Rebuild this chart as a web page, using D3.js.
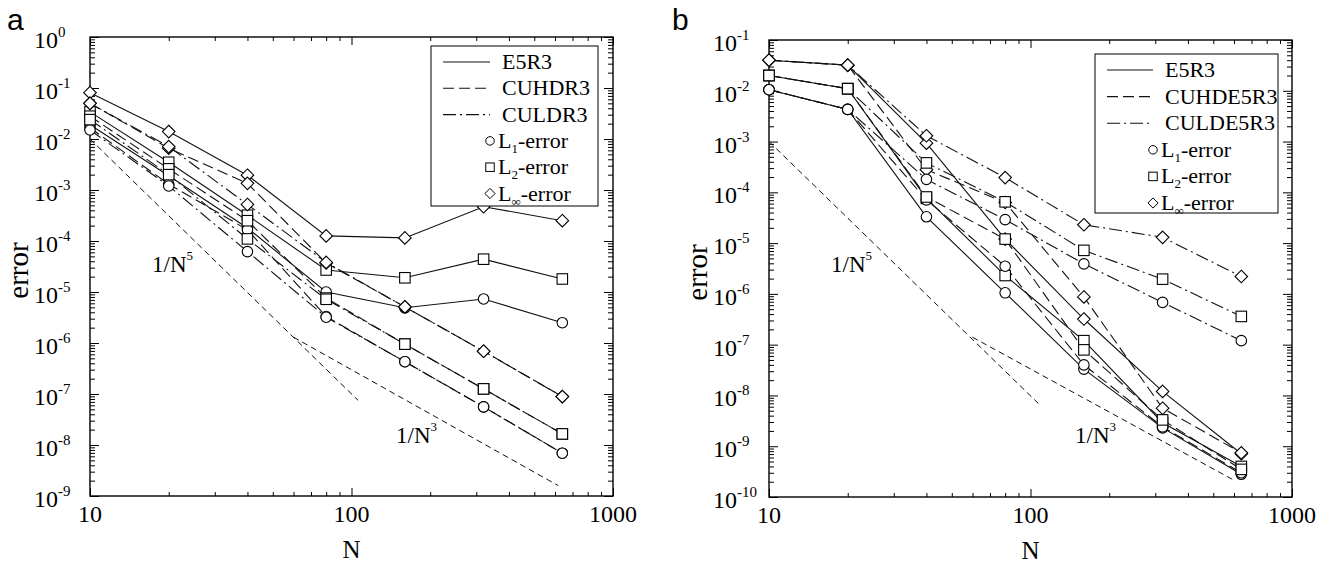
<!DOCTYPE html>
<html>
<head>
<meta charset="utf-8">
<script src="https://cdn.jsdelivr.net/npm/d3@7"></script>
<style>
  body { margin: 0; background: #fff; }
  svg { display: block; }
</style>
</head>
<body>
<svg id="fig" width="1336" height="563"></svg>
<script>
// grid sizes
const N = [10, 20, 40, 80, 160, 320, 640];

// panel a : errors
const aE5R3_L1   = [1.9e-2, 1.9e-3, 1.8e-4, 1.0e-5, 4.9e-6, 7.3e-6, 2.5e-6];
const aE5R3_L2   = [3.4e-2, 3.5e-3, 3.2e-4, 2.7e-5, 1.9e-5, 4.4e-5, 1.8e-5];
const aE5R3_Linf = [8.1e-2, 1.4e-2, 1.95e-3, 1.26e-4, 1.15e-4, 4.7e-4, 2.5e-4];
const aCUHD_L1   = [1.66e-2, 1.3e-3, 1.66e-4, 3.3e-6, 4.3e-7, 5.6e-8, 6.9e-9];
const aCUHD_L2   = [2.8e-2, 2.6e-3, 2.5e-4, 7.6e-6, 9.5e-7, 1.26e-7, 1.65e-8];
const aCUHD_Linf = [5.0e-2, 6.6e-3, 1.35e-3, 3.7e-5, 5.1e-6, 6.9e-7, 8.9e-8];
const aCULD_L1   = [1.5e-2, 1.2e-3, 6.2e-5, 3.2e-6, 4.3e-7, 5.6e-8, 6.9e-9];
const aCULD_L2   = [2.4e-2, 2.0e-3, 1.1e-4, 7.2e-6, 9.5e-7, 1.26e-7, 1.65e-8];
const aCULD_Linf = [5.0e-2, 7.1e-3, 5.2e-4, 3.8e-5, 5.1e-6, 6.9e-7, 8.9e-8];

// panel b
const bE5R3_L1   = [1.05e-2, 4.3e-3, 3.3e-5, 1.05e-6, 3.3e-8, 2.3e-9, 2.8e-10];
const bE5R3_L2   = [2.0e-2, 1.1e-2, 7.6e-5, 2.3e-6, 1.2e-7, 2.9e-9, 4.0e-10];
const bE5R3_Linf = [4.0e-2, 3.2e-2, 9.3e-4, 1.2e-5, 3.2e-7, 1.2e-8, 7.1e-10];
const bCUHD_L1   = [1.05e-2, 4.3e-3, 7.1e-5, 3.5e-6, 4.0e-8, 2.4e-9, 3.0e-10];
const bCUHD_L2   = [2.0e-2, 1.1e-2, 8.1e-5, 1.2e-5, 7.9e-8, 3.3e-9, 3.5e-10];
const bCUHD_Linf = [4.0e-2, 3.2e-2, 2.8e-4, 6.3e-5, 8.7e-7, 5.6e-9, 7.4e-10];
const bCULD_L1   = [1.05e-2, 4.3e-3, 1.8e-4, 2.9e-5, 3.9e-6, 6.8e-7, 1.2e-7];
const bCULD_L2   = [2.0e-2, 1.1e-2, 3.8e-4, 6.5e-5, 7.2e-6, 1.95e-6, 3.6e-7];
const bCULD_Linf = [4.0e-2, 3.2e-2, 1.3e-3, 1.95e-4, 2.3e-5, 1.3e-5, 2.2e-6];

// slope guides, [N, error] end points
const refA_N5 = [[10, 1.0e-2], [106, 7.5e-8]];
const refA_N3 = [[60, 1.3e-6], [617, 1.6e-9]];
const refB_N5 = [[10, 1.0e-3], [107, 7.0e-9]];
const refB_N3 = [[60, 1.4e-7], [594, 2.2e-10]];

const schemesA = ['E5R3', 'CUHDR3', 'CULDR3'];
const schemesB = ['E5R3', 'CUHDE5R3', 'CULDE5R3'];
const normNames = ['1', '2', '\u221E'];

const SERIF = '"Liberation Serif", "Times New Roman", "Nimbus Roman", "DejaVu Serif", serif';
const dashes = [null, '11,5', '13,4,2,4'];
const svg = d3.select('#fig').attr('font-family', SERIF);

function marker(sel, kind, s) {
    if (kind === 0) {
        sel.append('circle').attr('r', s * 0.5);
    } else if (kind === 1) {
        sel.append('rect').attr('x', -s / 2).attr('y', -s / 2).attr('width', s).attr('height', s);
    } else {
        const h = s * 0.6;
        sel.append('path').attr('d', `M0,${-h}L${h},0L0,${h}L${-h},0Z`);
    }
}

function drawPanel(p) {
    const g = svg.append('g');
    const x = d3.scaleLog().domain([10, 1000]).range([p.left, p.right]);
    const y = d3.scaleLog().domain([Math.pow(10, p.expLo), Math.pow(10, p.expHi)]).range([p.bottom, p.top]);

    const xMajor = [10, 100, 1000];
    const xMinor = d3.range(2, 10).flatMap(m => [m * 10, m * 100]);
    const yMajor = d3.range(p.expLo, p.expHi + 1).map(k => Math.pow(10, k));
    const yMinor = d3.range(p.expLo, p.expHi).flatMap(k => d3.range(2, 10).map(m => m * Math.pow(10, k)));

    const ax = (axis, tr, vals, len) => {
        g.append('g').attr('transform', tr)
            .call(axis.tickValues(vals).tickSize(-len).tickFormat(''))
            .call(a => a.select('.domain').remove())
            .selectAll('line').attr('stroke', '#000').attr('stroke-width', 1);
    };
    ax(d3.axisBottom(x), `translate(0,${p.bottom})`, xMajor, 8);
    ax(d3.axisBottom(x), `translate(0,${p.bottom})`, xMinor, 4);
    ax(d3.axisTop(x), `translate(0,${p.top})`, xMajor, 8);
    ax(d3.axisTop(x), `translate(0,${p.top})`, xMinor, 4);
    ax(d3.axisLeft(y), `translate(${p.left},0)`, yMajor, 9);
    ax(d3.axisLeft(y), `translate(${p.left},0)`, yMinor, 5);
    ax(d3.axisRight(y), `translate(${p.right},0)`, yMajor, 9);
    ax(d3.axisRight(y), `translate(${p.right},0)`, yMinor, 5);

    g.append('rect')
        .attr('x', p.left).attr('y', p.top)
        .attr('width', p.right - p.left).attr('height', p.bottom - p.top)
        .attr('fill', 'none').attr('stroke', '#000').attr('stroke-width', 1.4);

    // tick labels
    g.selectAll('.xl').data(xMajor).enter().append('text')
        .attr('x', d => x(d)).attr('y', p.bottom + 26)
        .attr('text-anchor', 'middle').attr('font-size', 24)
        .text(d => d);
    const yl = g.selectAll('.yl').data(yMajor).enter().append('text')
        .attr('x', p.left - 56).attr('y', d => y(d) + 11)
        .attr('font-size', 24);
    yl.append('tspan').text('10');
    yl.append('tspan').attr('font-size', 15).attr('dy', -11)
        .text(d => String(Math.round(Math.log10(d))));

    g.append('text').attr('x', (p.left + p.right) / 2).attr('y', p.bottom + 62)
        .attr('text-anchor', 'middle').attr('font-size', 25).text('N');
    g.append('text').attr('transform', `translate(${p.left - 62},${(p.top + p.bottom) / 2 + 4}) rotate(-90)`)
        .attr('text-anchor', 'middle').attr('font-size', 29).text('error');
    g.append('text').attr('x', p.letterX).attr('y', 30)
        .attr('font-family', '"Liberation Sans", Arial, sans-serif')
        .attr('font-size', 30).text(p.letter);

    const line = d3.line().x(d => x(d[0])).y(d => y(d[1]));

    // slope guides
    [p.ref5, p.ref3].forEach(r => {
        g.append('path').attr('d', line(r))
            .attr('fill', 'none').attr('stroke', '#111').attr('stroke-width', 1)
            .attr('stroke-dasharray', '6,4');
    });
    const guideLabel = (px, py, e) => {
        const t = g.append('text').attr('x', px).attr('y', py).attr('font-size', 23);
        t.append('tspan').text('1/N');
        t.append('tspan').attr('font-size', 13).attr('dy', -12).text(e);
    };
    guideLabel(p.left + 62, 272, '5');
    guideLabel(p.left + 306, 443, '3');

    // series lines
    p.series.forEach(s => {
        g.append('path').attr('d', line(N.map((n, i) => [n, s.values[i]])))
            .attr('fill', 'none').attr('stroke', '#111').attr('stroke-width', 1.1)
            .attr('stroke-dasharray', dashes[s.scheme]);
    });
    // markers on top
    p.series.forEach(s => {
        N.forEach((n, i) => {
            const m = g.append('g').attr('transform', `translate(${x(n)},${y(s.values[i])})`)
                .attr('fill', '#fff').attr('stroke', '#000').attr('stroke-width', 1.1);
            marker(m, s.norm, 10.5);
        });
    });

    // legend
    const L = p.legend;
    const lg = g.append('g');
    lg.append('rect').attr('x', L.x0).attr('y', L.y0).attr('width', L.x1 - L.x0).attr('height', L.y1 - L.y0)
        .attr('fill', '#fff').attr('stroke', '#000').attr('stroke-width', 1);
    p.names.forEach((name, i) => {
        const yy = L.y0 + 16 + i * L.step;
        lg.append('line').attr('x1', L.lx0).attr('x2', L.lx1).attr('y1', yy).attr('y2', yy)
            .attr('stroke', '#111').attr('stroke-width', 1.1).attr('stroke-dasharray', dashes[i]);
        lg.append('text').attr('x', L.tx).attr('y', yy + 7).attr('font-size', 22).text(name);
    });
    normNames.forEach((nm, i) => {
        const yy = L.y0 + 16 + (i + 3) * L.step;
        const m = lg.append('g').attr('transform', `translate(${L.lx1},${yy})`)
            .attr('fill', '#fff').attr('stroke', '#000').attr('stroke-width', 1);
        marker(m, i, 8.5);
        const t = lg.append('text').attr('x', L.lx1 + 8).attr('y', yy + 7).attr('font-size', 22);
        t.append('tspan').text('L');
        t.append('tspan').attr('font-size', 13).attr('dy', 5).text(nm);
        t.append('tspan').attr('dy', -5).text('-error');
    });
}

drawPanel({
    left: 90, right: 613, top: 37, bottom: 496, expLo: -9, expHi: 0,
    letter: 'a', letterX: 7,
    ref5: refA_N5, ref3: refA_N3, names: schemesA,
    series: [
        { values: aE5R3_L1, scheme: 0, norm: 0 }, { values: aE5R3_L2, scheme: 0, norm: 1 }, { values: aE5R3_Linf, scheme: 0, norm: 2 },
        { values: aCUHD_L1, scheme: 1, norm: 0 }, { values: aCUHD_L2, scheme: 1, norm: 1 }, { values: aCUHD_Linf, scheme: 1, norm: 2 },
        { values: aCULD_L1, scheme: 2, norm: 0 }, { values: aCULD_L2, scheme: 2, norm: 1 }, { values: aCULD_Linf, scheme: 2, norm: 2 }
    ],
    legend: { x0: 431, y0: 46, x1: 598, y1: 206, step: 26.3, lx0: 443, lx1: 490, tx: 502 }
});

drawPanel({
    left: 769, right: 1292, top: 40, bottom: 497, expLo: -10, expHi: -1,
    letter: 'b', letterX: 672,
    ref5: refB_N5, ref3: refB_N3, names: schemesB,
    series: [
        { values: bE5R3_L1, scheme: 0, norm: 0 }, { values: bE5R3_L2, scheme: 0, norm: 1 }, { values: bE5R3_Linf, scheme: 0, norm: 2 },
        { values: bCUHD_L1, scheme: 1, norm: 0 }, { values: bCUHD_L2, scheme: 1, norm: 1 }, { values: bCUHD_Linf, scheme: 1, norm: 2 },
        { values: bCULD_L1, scheme: 2, norm: 0 }, { values: bCULD_L2, scheme: 2, norm: 1 }, { values: bCULD_Linf, scheme: 2, norm: 2 }
    ],
    legend: { x0: 1095, y0: 54, x1: 1278, y1: 213, step: 26.6, lx0: 1107, lx1: 1153, tx: 1165 }
});
</script>
</body>
</html>
